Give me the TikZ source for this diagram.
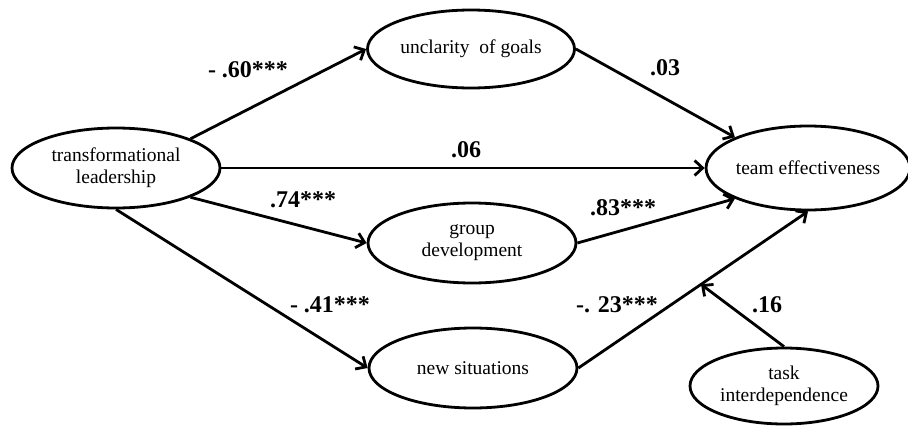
\documentclass[tikz,border=0pt]{standalone}
\usepackage{fontspec}
\setmainfont{Liberation Serif}
\usetikzlibrary{shapes.geometric,arrows.meta,calc}

\begin{document}
\begin{tikzpicture}[x=1pt,y=-1pt,
  construct/.style={ellipse, draw, line width=2.8pt, inner sep=0pt,
    font=\fontsize{19.5}{22}\selectfont, align=center},
  effect/.style={line width=2.8pt,
    -{Straight Barb[length=8pt,width=15pt]}},
  coef/.style={font=\fontsize{24}{28}\selectfont\bfseries, inner sep=0pt}]
\useasboundingbox (0,0) rectangle (908,434);

% latent constructs
\node[construct, minimum width=208pt, minimum height=80pt] (tl) at (116,168) {transformational\\leadership};
\node[construct, minimum width=207pt, minimum height=78pt] (ug) at (471,49) {unclarity\ \ of goals};
\node[construct, minimum width=208pt, minimum height=80pt] (gd) at (472,243) {group\\development};
\node[construct, minimum width=208pt, minimum height=80pt] (ns) at (473,368) {new situations};
\node[construct, minimum width=194pt, minimum height=84pt] (te) at (808,168) {team effectiveness};
\node[construct, minimum width=188pt, minimum height=76pt] (ti) at (784,386) {task\\interdependence};

% paths
\draw[effect] (tl.north east) -- (ug.west);
\draw[effect] (tl.east) -- (te.west);
\draw[effect] (tl.south east) -- (gd.west);
\draw[effect] (tl.south) -- (ns.west);
\draw[effect] (ug.east) -- (te.north west);
\draw[effect] (gd.east) -- (te.south west);
\draw[effect] (ns.east) -- (te.south);
\coordinate (mod) at ($(ns.east)!0.534!(te.south)$);
\draw[effect] (ti.north) -- (mod);

% path coefficients
\node[coef] (c1) at (248,70) {- .60***};
\node[coef] (c2) at (466,150) {.06};
\node[coef] (c3) at (303,200) {.74***};
\node[coef] (c4) at (330,305) {- .41***};
\node[coef] (c5) at (665,68) {.03};
\node[coef] (c6) at (623,208) {.83***};
\node[coef] (c7) at (617,305) {-. 23***};
\node[coef] (c8) at (767,305) {.16};
\end{tikzpicture}
\end{document}
